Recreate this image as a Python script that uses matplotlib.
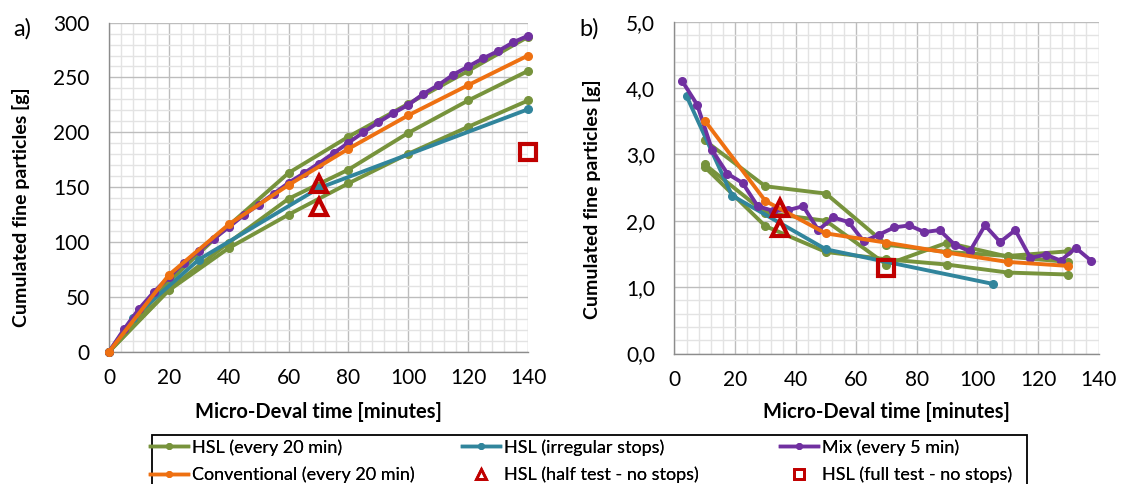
import matplotlib
matplotlib.use('Agg')
import matplotlib.pyplot as plt
from matplotlib.ticker import MultipleLocator, FuncFormatter
from matplotlib.lines import Line2D
from matplotlib.patches import Rectangle

plt.rcParams['font.family'] = ['Lato', 'DejaVu Sans']

# ---- data: a) cumulated fine particles [g] ----
t20 = [0, 20, 40, 60, 80, 100, 120, 140]
hsl20_a = [
    [0, 64, 115, 163, 196, 226, 256, 287],
    [0, 57, 99.5, 139.5, 166, 199.5, 229, 256],
    [0, 56, 94.5, 125, 153.5, 180.5, 205, 229],
]
conv_a = [0, 70, 116, 152, 185, 215.5, 243, 270]
t_irr = [0, 8, 30, 70, 140]
irr_a = [0, 31, 84, 149, 221]
t5 = [0, 5, 10, 15, 20, 25, 30, 35, 40, 45, 50, 55, 60, 65, 70, 75, 80, 85,
      90, 95, 100, 105, 110, 115, 120, 125, 130, 135, 140]
mix_a = [0, 20.5, 39, 54.5, 68, 81, 92, 103, 113.5, 124.5, 134, 144, 154,
         162.5, 171.5, 181, 190.5, 200, 209, 217.5, 225, 235, 243, 252.5,
         260, 267.5, 274, 282, 288]
half_t_a = [70, 70]
half_a = [153, 131.5]
full_t_a = [140]
full_a = [182.5]

# ---- data: b) rate per interval ----
t20_mid = [10, 30, 50, 70, 90, 110, 130]
hsl20_b = [
    [3.21, 2.52, 2.41, 1.64, 1.53, 1.47, 1.54],
    [2.85, 2.12, 2.00, 1.34, 1.67, 1.46, 1.38],
    [2.81, 1.92, 1.53, 1.42, 1.34, 1.22, 1.19],
]
conv_b = [3.51, 2.30, 1.81, 1.67, 1.52, 1.38, 1.32]
t_irr_mid = [4, 19, 50, 105]
irr_b = [3.88, 2.38, 1.57, 1.05]
t5_mid = [2.5, 7.5, 12.5, 17.5, 22.5, 27.5, 32.5, 37.5, 42.5, 47.5, 52.5,
          57.5, 62.5, 67.5, 72.5, 77.5, 82.5, 87.5, 92.5, 97.5, 102.5, 107.5,
          112.5, 117.5, 122.5, 127.5, 132.5, 137.5]
mix_b = [4.11, 3.75, 3.06, 2.71, 2.57, 2.22, 2.15, 2.16, 2.22, 1.86, 2.05,
         1.98, 1.69, 1.79, 1.90, 1.93, 1.83, 1.86, 1.64, 1.54, 1.93, 1.68,
         1.86, 1.44, 1.49, 1.40, 1.59, 1.40]
half_t_b = [35, 35]
half_b = [2.19, 1.89]
full_t_b = [70]
full_b = [1.29]

green = '#77933C'
teal = '#31859C'
purple = '#7030A0'
orange = '#EE7011'
red = '#C00000'

fig = plt.figure(figsize=(11.24, 4.84), dpi=100)
axa = fig.add_axes([0.097, 0.2733, 0.3728, 0.680])
axb = fig.add_axes([0.600, 0.2696, 0.3774, 0.6856])

lw = 2.8
ms = 5.5


def draw(ax, tg, greens, tc, conv, ti, irr, tm, mix, th, half, tf, full):
    for g in greens:
        ax.plot(tg, g, color=green, lw=lw, marker='o', ms=ms, clip_on=False, zorder=3)
    ax.plot(ti, irr, color=teal, lw=lw, marker='o', ms=ms, clip_on=False, zorder=4)
    ax.plot(tm, mix, color=purple, lw=lw, marker='o', ms=ms, clip_on=False, zorder=5)
    ax.plot(tc, conv, color=orange, lw=lw, marker='o', ms=ms, clip_on=False, zorder=6)
    ax.plot(th, half, ls='none', marker='^', ms=12, mfc='none', mec=red, mew=3,
            clip_on=False, zorder=7)
    ax.plot(tf, full, ls='none', marker='s', ms=11, mfc='none', mec=red, mew=3,
            clip_on=False, zorder=7)


draw(axa, t20, hsl20_a, t20, conv_a, t_irr, irr_a, t5, mix_a,
     half_t_a, half_a, full_t_a, full_a)
draw(axb, t20_mid, hsl20_b, t20_mid, conv_b, t_irr_mid, irr_b, t5_mid, mix_b,
     half_t_b, half_b, full_t_b, full_b)

for ax in (axa, axb):
    ax.set_xlim(0, 140)
    ax.xaxis.set_major_locator(MultipleLocator(20))
    ax.xaxis.set_minor_locator(MultipleLocator(4))
    ax.grid(which='major', color='#BDBDBD', lw=1.0, zorder=0)
    ax.grid(which='minor', color='#E3E3E3', lw=1.0, zorder=0)
    ax.set_axisbelow(True)
    for s in ('top', 'right'):
        ax.spines[s].set_visible(False)
    for s in ('left', 'bottom'):
        ax.spines[s].set_color('#8C8C8C')
        ax.spines[s].set_linewidth(1.0)
    ax.tick_params(which='both', length=0, labelsize=15)
    ax.tick_params(axis='y', pad=14)
    ax.tick_params(axis='x', pad=12)
    ax.set_xlabel('Micro-Deval time [minutes]', fontsize=14.5, fontweight='bold')
    ax.set_ylabel('Cumulated fine particles [g]', fontsize=14, fontweight='bold')

axa.set_ylim(0, 300)
axa.yaxis.set_major_locator(MultipleLocator(50))
axa.yaxis.set_minor_locator(MultipleLocator(10))
axa.yaxis.set_label_coords(-0.189, 0.44)
axa.xaxis.set_label_coords(0.5, -0.152)

axb.set_ylim(0, 5)
axb.yaxis.set_major_locator(MultipleLocator(1))
axb.yaxis.set_minor_locator(MultipleLocator(0.2))
axb.yaxis.set_major_formatter(FuncFormatter(lambda v, p: ('%.1f' % v).replace('.', ',')))
axb.yaxis.set_label_coords(-0.172, 0.466)
axb.xaxis.set_label_coords(0.5, -0.145)

fig.text(22 / 1124, 1 - 29 / 484, 'a)', fontsize=17, ha='center', va='center')
fig.text(589 / 1124, 1 - 29 / 484, 'b)', fontsize=17, ha='center', va='center')

# legend: three columns inside one black box
columns = [
    (150, [Line2D([], [], color=green, lw=2.5, marker='o', ms=4),
           Line2D([], [], color=orange, lw=2.5, marker='o', ms=4)],
     ['HSL (every 20 min)', 'Conventional (every 20 min)']),
    (462, [Line2D([], [], color=teal, lw=2.5, marker='o', ms=4),
           Line2D([], [], ls='none', marker='^', ms=7.5, mfc='none', mec=red, mew=2)],
     ['HSL (irregular stops)', 'HSL (half test - no stops)']),
    (780, [Line2D([], [], color=purple, lw=2.5, marker='o', ms=4),
           Line2D([], [], ls='none', marker='s', ms=7.5, mfc='none', mec=red, mew=2)],
     ['Mix (every 5 min)', 'HSL (full test - no stops)']),
]
for x0, hs, ls in columns:
    lg = fig.legend(hs, ls, loc='upper left', bbox_to_anchor=(x0 / 1124, 1 - 439 / 484),
                    fontsize=13, frameon=False, handlelength=2.1, handletextpad=0.2,
                    borderpad=0, borderaxespad=0, labelspacing=0.6)
    fig.add_artist(lg)

fig.add_artist(Rectangle((152 / 1124, -0.05), (1027 - 152) / 1124, 0.05 + (484 - 435) / 484,
                         transform=fig.transFigure, fill=False, edgecolor='black', lw=1.3))

fig.savefig('out.png', dpi=100)
